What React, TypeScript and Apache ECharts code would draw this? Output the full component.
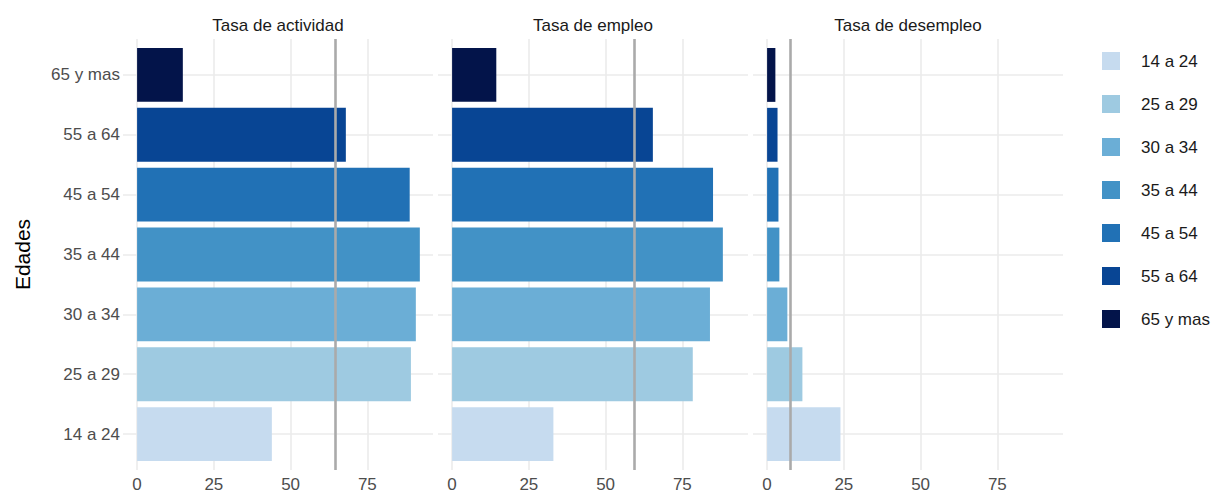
import React, { useEffect, useRef } from "react";
import * as echarts from "echarts";

const ages = ["14 a 24", "25 a 29", "30 a 34", "35 a 44", "45 a 54", "55 a 64", "65 y mas"];
const panelTitles = ["Tasa de actividad", "Tasa de empleo", "Tasa de desempleo"];
const actividad = [43.9, 89.2, 90.8, 92.1, 88.8, 68.0, 14.9];
const empleo = [33.0, 78.4, 84.0, 88.2, 85.0, 65.4, 14.4];
const desempleo = [23.9, 11.5, 6.6, 4.0, 3.7, 3.4, 2.7];
const refLines = [64.5, 59.3, 7.4];
const xTicks = [0, 25, 50, 75];
const colors = ["#c6dbef", "#9ecae1", "#6baed6", "#4292c6", "#2171b5", "#084594", "#03144a"];

const panelValues = [actividad, empleo, desempleo];
const FONT = "'Liberation Sans', Arial, Helvetica, sans-serif";
const lefts = [123, 438, 753];
const panelW = 310;
const xMin = -4.59;
const xMax = 96.39;

export default function App() {
  const ref = useRef<HTMLDivElement>(null);
  useEffect(() => {
    if (!ref.current) return;
    const chart = echarts.init(ref.current, null, { renderer: "svg" });
    const grid: any[] = [];
    const xAxis: any[] = [];
    const yAxis: any[] = [];
    const series: any[] = [];
    const title: any[] = [];

    panelTitles.forEach((t, p) => {
      grid.push({ left: lefts[p], width: panelW, top: 45, bottom: 29 });
      grid.push({ left: lefts[p], width: panelW, top: 39, bottom: 23 });

      xAxis.push({ type: "value", gridIndex: 2 * p, min: xMin, max: xMax, show: false });
      xAxis.push({
        type: "value",
        gridIndex: 2 * p + 1,
        min: xMin,
        max: xMax,
        axisLine: { show: false },
        axisTick: { show: false },
        splitLine: { show: false },
        axisLabel: {
          customValues: xTicks,
          color: "#4d4d4d",
          fontSize: 17,
          fontFamily: FONT,
          margin: 6,
        },
      });
      yAxis.push({
        type: "category",
        gridIndex: 2 * p,
        data: ages,
        axisLine: { show: false },
        axisTick: { show: false },
        splitLine: { show: false },
        axisLabel: {
          show: p === 0,
          color: "#4d4d4d",
          fontSize: 17,
          fontFamily: FONT,
          margin: 3,
        },
        name: p === 0 ? "Edades" : "",
        nameLocation: "middle",
        nameGap: 90,
        nameRotate: 90,
        nameTextStyle: { fontSize: 21, color: "#000000", fontFamily: FONT },
      });
      yAxis.push({
        type: "value",
        gridIndex: 2 * p + 1,
        min: -0.6,
        max: ages.length - 1 + 0.6,
        show: false,
      });

      title.push({
        text: t,
        left: lefts[p] + panelW / 2,
        top: 17,
        textAlign: "center",
        padding: 0,
        textStyle: { fontSize: 17, fontWeight: "normal", color: "#1a1a1a", fontFamily: FONT },
      });

      series.push({
        type: "line",
        xAxisIndex: 2 * p + 1,
        yAxisIndex: 2 * p + 1,
        data: [],
        silent: true,
        z: 0,
        markLine: {
          silent: true,
          z: 0,
          symbol: ["none", "none"],
          label: { show: false },
          lineStyle: { color: "#ebebeb", width: 1.6, type: "solid" },
          data: [
            ...xTicks.map((v) => ({ xAxis: v })),
            ...ages.map((_, i) => ({ yAxis: i })),
          ],
        },
      });

      ages.forEach((age, i) => {
        series.push({
          type: "bar",
          name: age,
          xAxisIndex: 2 * p,
          yAxisIndex: 2 * p,
          stack: "panel" + p,
          barWidth: "90%",
          itemStyle: { color: colors[i] },
          z: 3,
          data: ages.map((_, j) => (j === i ? panelValues[p][i] : "-")),
        });
      });

      series.push({
        type: "line",
        xAxisIndex: 2 * p + 1,
        yAxisIndex: 2 * p + 1,
        data: [],
        silent: true,
        z: 6,
        markLine: {
          silent: true,
          z: 6,
          symbol: ["none", "none"],
          label: { show: false },
          lineStyle: { color: "#aaaaaa", width: 2.6, type: "solid" },
          data: [{ xAxis: refLines[p] }],
        },
      });
    });

    chart.setOption({
      animation: false,
      backgroundColor: "#ffffff",
      textStyle: { fontFamily: FONT },
      title,
      grid,
      xAxis,
      yAxis,
      series,
      legend: {
        orient: "vertical",
        left: 1102,
        top: 52,
        padding: 0,
        itemWidth: 18,
        itemHeight: 18,
        itemGap: 25,
        icon: "rect",
        selectedMode: false,
        data: ages,
        textStyle: { fontSize: 17, color: "#1a1a1a", fontFamily: FONT, padding: [0, 0, 0, 16] },
      },
    });
    return () => chart.dispose();
  }, []);
  return (
    <div
      ref={ref}
      style={{ position: "fixed", left: 0, top: 0, width: 1211, height: 493, background: "#fff" }}
    />
  );
}
